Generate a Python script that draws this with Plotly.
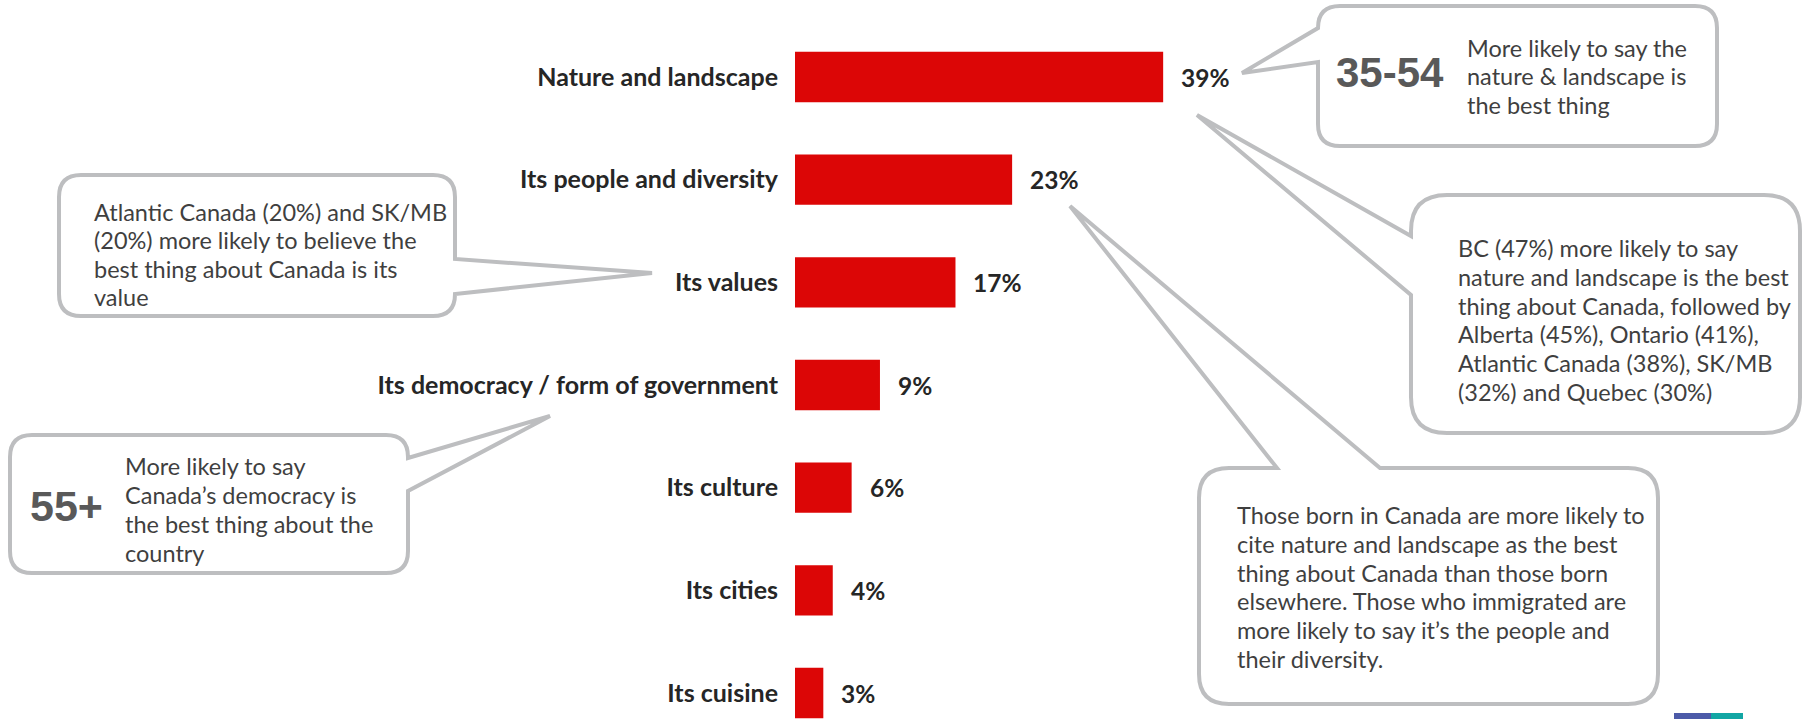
import plotly.graph_objects as go

# ---------------- data ----------------
categories = [
    "Nature and landscape",
    "Its people and diversity",
    "Its values",
    "Its democracy / form of government",
    "Its culture",
    "Its cities",
    "Its cuisine",
]
values = [39, 23, 17, 9, 6, 4, 3]

callout_age_top_big = "35-54"
callout_age_top_lines = ["More likely to say the", "nature & landscape is", "the best thing"]

callout_values_lines = [
    "Atlantic Canada (20%) and SK/MB",
    "(20%) more likely to believe the",
    "best thing about Canada is its",
    "value",
]

callout_age_bottom_big = "55+"
callout_age_bottom_lines = [
    "More likely to say",
    "Canada\u2019s democracy is",
    "the best thing about the",
    "country",
]

callout_bc_lines = [
    "BC (47%) more likely to say",
    "nature and landscape is the best",
    "thing about Canada, followed by",
    "Alberta (45%), Ontario (41%),",
    "Atlantic Canada (38%), SK/MB",
    "(32%) and Quebec (30%)",
]

callout_born_lines = [
    "Those born in Canada are more likely to",
    "cite nature and landscape as the best",
    "thing about Canada than those born",
    "elsewhere. Those who immigrated are",
    "more likely to say it\u2019s the people and",
    "their diversity.",
]

# ---------------- layout constants ----------------
W, H = 1806, 719
BAR_LEFT = 795          # pixel where the value axis starts
PX_PER_PCT = 9.44
BAR_COLOR = "#DC0606"
LINE_COLOR = "#BDBEC0"
TEXT_COLOR = "#3F3F3F"
LABEL_COLOR = "#262626"
BIG_COLOR = "#595959"
TEXT_FONT = "Lato"
BIG_FONT = "Liberation Sans"
LABEL_SIZE = 25
CALLOUT_SIZE = 23.5


def px(x):
    return x / W


def py(y):
    return 1 - y / H


def callout_path(x0, y0, x1, y1, r, side, ja, jb, tip):
    """Rounded rectangle (pixel coords) with a pointer on one side, returned in paper coords."""
    pts = []

    def M(x, y):
        pts.append(f"M{px(x):.5f},{py(y):.5f}")

    def L(x, y):
        pts.append(f"L{px(x):.5f},{py(y):.5f}")

    def Q(cx, cy, x, y):
        pts.append(f"Q{px(cx):.5f},{py(cy):.5f} {px(x):.5f},{py(y):.5f}")

    tx, ty = tip
    M(x0 + r, y0)
    if side == "top":
        L(ja, y0); L(tx, ty); L(jb, y0)
    L(x1 - r, y0)
    Q(x1, y0, x1, y0 + r)
    if side == "right":
        L(x1, ja); L(tx, ty); L(x1, jb)
    L(x1, y1 - r)
    Q(x1, y1, x1 - r, y1)
    L(x0 + r, y1)
    Q(x0, y1, x0, y1 - r)
    if side == "left":
        L(x0, jb); L(tx, ty); L(x0, ja)
    L(x0, y0 + r)
    Q(x0, y0, x0 + r, y0)
    pts.append("Z")
    return " ".join(pts)


fig = go.Figure()

fig.add_trace(
    go.Bar(
        x=values,
        y=categories,
        orientation="h",
        marker=dict(color=BAR_COLOR, line=dict(width=0)),
        width=0.49,
        hoverinfo="skip",
        showlegend=False,
    )
)

# value labels
annotations = []
for c, v in zip(categories, values):
    annotations.append(
        dict(
            x=v, y=c, xref="x", yref="y",
            text=f"<b>{v}%</b>",
            showarrow=False, xanchor="left", yanchor="middle", xshift=16,
            font=dict(family=TEXT_FONT, size=LABEL_SIZE - 0.5, color=LABEL_COLOR),
        )
    )

# callout shapes
shapes = []
callouts = [
    # x0, y0, x1, y1, r, side, ja, jb, tip
    (1318, 6, 1717, 146, 22, "left", 28, 62, (1242, 73)),       # 35-54
    (1411, 195, 1800, 433, 36, "left", 236, 295, (1197, 115)),  # BC
    (1199, 468, 1658, 704, 30, "top", 1277, 1380, (1070, 206)), # born in Canada
    (59, 175, 455, 316, 22, "right", 259, 294, (652, 273)),     # values
    (10, 435, 408, 573, 22, "right", 458, 491, (550, 416)),     # 55+
]
for x0, y0, x1, y1, r, side, ja, jb, tip in callouts:
    shapes.append(
        dict(
            type="path", xref="paper", yref="paper",
            path=callout_path(x0, y0, x1, y1, r, side, ja, jb, tip),
            line=dict(color=LINE_COLOR, width=4),
            fillcolor="rgba(255,255,255,1)",
            layer="above",
        )
    )

# small logo strip bottom right
shapes.append(dict(type="rect", xref="paper", yref="paper",
                   x0=px(1674), x1=px(1711), y0=py(719), y1=py(713),
                   fillcolor="#4C5AA8", line=dict(width=0)))
shapes.append(dict(type="rect", xref="paper", yref="paper",
                   x0=px(1711), x1=px(1743), y0=py(719), y1=py(713),
                   fillcolor="#12A6A4", line=dict(width=0)))


def add_lines(lines, x, y_first, step, size=CALLOUT_SIZE):
    for i, t in enumerate(lines):
        annotations.append(
            dict(
                x=px(x), y=py(y_first + i * step), xref="paper", yref="paper",
                text=t, showarrow=False, xanchor="left", yanchor="middle",
                font=dict(family=TEXT_FONT, size=size, color=TEXT_COLOR),
            )
        )


add_lines(callout_age_top_lines, 1465, 48, 28.5)
add_lines(callout_bc_lines, 1456, 248, 28.8)
add_lines(callout_born_lines, 1235, 515, 28.8)
add_lines(callout_values_lines, 92, 212, 28.3)
add_lines(callout_age_bottom_lines, 123, 466, 29)

annotations.append(dict(x=px(1390), y=py(72), xref="paper", yref="paper",
                        text=f"<b>{callout_age_top_big}</b>", showarrow=False,
                        xanchor="center", yanchor="middle",
                        font=dict(family=BIG_FONT, size=42, color=BIG_COLOR)))
annotations.append(dict(x=px(66), y=py(506), xref="paper", yref="paper",
                        text=f"<b>{callout_age_bottom_big}</b>", showarrow=False,
                        xanchor="center", yanchor="middle",
                        font=dict(family=BIG_FONT, size=43, color=BIG_COLOR)))

fig.update_layout(
    width=W, height=H,
    margin=dict(l=0, r=0, t=0, b=0, pad=0),
    paper_bgcolor="white", plot_bgcolor="white",
    showlegend=False,
    xaxis=dict(
        domain=[BAR_LEFT / W, 1],
        range=[0, (W - BAR_LEFT) / PX_PER_PCT],
        visible=False, fixedrange=True, automargin=False,
    ),
    yaxis=dict(
        type="category",
        categoryarray=categories,
        tickvals=categories,
        ticktext=[f"<b>{c}</b>" for c in categories],
        range=[6.253, -0.75],
        showgrid=False, zeroline=False, showline=False, ticks="",
        ticklabelstandoff=16,
        tickfont=dict(family=TEXT_FONT, size=LABEL_SIZE, color=LABEL_COLOR),
        automargin=False, fixedrange=True,
    ),
    shapes=shapes,
    annotations=annotations,
)

fig.write_html(
    "out.html",
    config={"displayModeBar": False},
    post_script="document.body.style.margin='0';document.body.style.overflow='hidden';",
)
